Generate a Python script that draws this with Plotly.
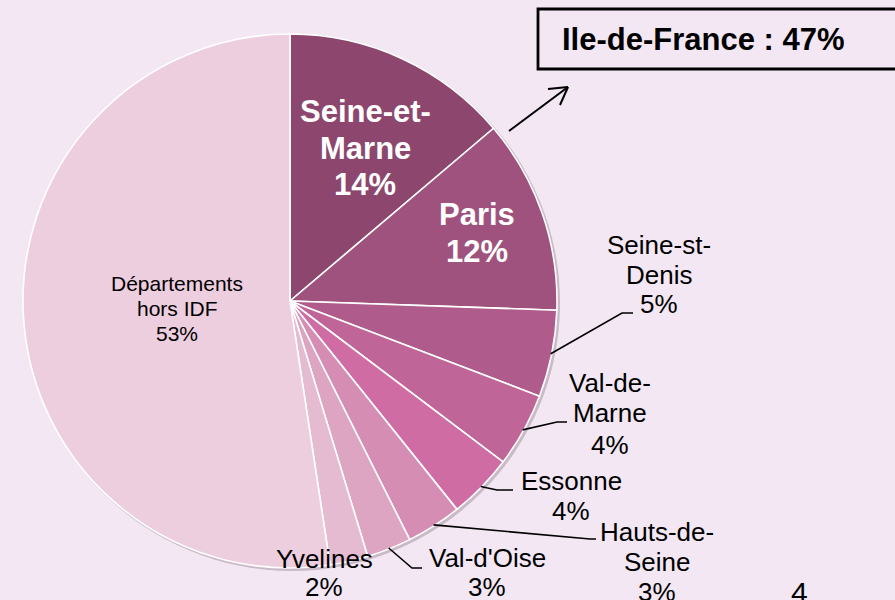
import math
import plotly.graph_objects as go

# ---------------- data ----------------
departements = ["Seine-et-Marne", "Paris", "Seine-st-Denis", "Val-de-Marne", "Essonne",
                "Hauts-de-Seine", "Val-d'Oise", "Yvelines", "Départements hors IDF"]
label_lines = [["Seine-et-", "Marne"], ["Paris"], ["Seine-st-", "Denis"], ["Val-de-", "Marne"],
               ["Essonne"], ["Hauts-de-", "Seine"], ["Val-d'Oise"], ["Yvelines"],
               ["Départements", "hors IDF"]]
parts = [13.8, 11.75, 5.25, 4.5, 3.95, 3.35, 2.7, 2.3, 52.4]
shown_pct = [14, 12, 5, 4, 4, 3, 3, 2, 53]
idf_total = 47
idf_title = "Ile-de-France"
page_number = "4"

colors = ["#8D476E", "#9F527D", "#AF5B8B", "#C06597", "#CF6CA4",
          "#D58DB4", "#DEA5C3", "#E4BBD1", "#EDCEDF"]
BG = "#F2E7F3"
FONT = "Liberation Sans, Arial, sans-serif"

# ---------------- geometry ----------------
W, H = 895, 600
CX, CY, R = 290, 301, 267


def px(x):
    return x / W


def py(y):
    return 1 - y / H


fig = go.Figure(go.Pie(
    labels=departements, values=parts, sort=False, direction="clockwise", rotation=0,
    marker=dict(colors=colors, line=dict(color="white", width=1.6)),
    textinfo="none", hoverinfo="label+percent", showlegend=False,
    domain=dict(x=[px(CX - R), px(CX + R)], y=[py(CY + R), py(CY - R)]),
))

# label placement (pixel positions of each text line centre)
place = [
    dict(x=365, ys=[111, 148, 184], size=31, bold=True, color="white"),
    dict(x=477, ys=[214, 251], size=31, bold=True, color="white"),
    dict(x=659, ys=[245, 275, 304], size=26, bold=False, color="black"),
    dict(x=610, ys=[383, 413, 445], size=26, bold=False, color="black"),
    dict(x=571, ys=[481, 511], size=26, bold=False, color="black"),
    dict(x=657, ys=[532, 562, 592], size=26, bold=False, color="black"),
    dict(x=487, ys=[558, 587], size=26, bold=False, color="black"),
    dict(x=324, ys=[559, 587], size=26, bold=False, color="black"),
    dict(x=177, ys=[283, 308, 333], size=21, bold=False, color="black"),
]

annotations = []
for i, pl in enumerate(place):
    lines = label_lines[i] + [f"{shown_pct[i]}%"]
    for txt, yy in zip(lines, pl["ys"]):
        t = f"<b>{txt}</b>" if pl["bold"] else txt
        annotations.append(dict(
            x=px(pl["x"]), y=py(yy), xref="paper", yref="paper", text=t, showarrow=False,
            xanchor="center", yanchor="middle",
            font=dict(family=FONT, size=pl["size"], color=pl["color"])))

# leader lines: start at the slice mid-angle on the rim (from data)
elbows = {2: [(622, 313), (633, 313)], 3: [(557, 422), (567, 422)],
          4: [(497, 490), (513, 490)], 5: [(590, 539), (596, 539)],
          6: [(412, 568), (422, 568)]}
total = sum(parts)
cum = 0
mids = []
for v in parts:
    mids.append((cum + v / 2) / total)
    cum += v

shapes = []
# subtle shadow under the pie
shapes.append(dict(type="circle", xref="paper", yref="paper", layer="below",
                   x0=px(CX - R + 1), x1=px(CX + R + 3), y0=py(CY + R + 3), y1=py(CY - R + 1),
                   fillcolor="rgba(110,80,100,0.30)", line=dict(width=0)))
for i, pts in elbows.items():
    th = mids[i] * 2 * math.pi
    ax, ay = CX + (R - 1) * math.sin(th), CY - (R - 1) * math.cos(th)
    path = f"M{px(ax)},{py(ay)}" + "".join(f" L{px(x)},{py(y)}" for x, y in pts)
    shapes.append(dict(type="path", xref="paper", yref="paper", path=path,
                       line=dict(color="black", width=1.6)))

# Ile-de-France box and arrow
shapes.append(dict(type="rect", xref="paper", yref="paper",
                   x0=px(538), x1=px(905), y0=py(69), y1=py(9),
                   line=dict(color="black", width=2.8)))
for (x0, y0, x1, y1) in [(509, 131, 568, 87), (568, 87, 548, 89), (568, 87, 560, 105)]:
    shapes.append(dict(type="line", xref="paper", yref="paper",
                       x0=px(x0), y0=py(y0), x1=px(x1), y1=py(y1),
                       line=dict(color="black", width=2)))

annotations.append(dict(x=px(560), y=py(40), xref="paper", yref="paper",
                        text=f"<b>{idf_title} : {idf_total}%</b>", showarrow=False,
                        xanchor="left", yanchor="middle",
                        font=dict(family=FONT, size=31, color="black")))
annotations.append(dict(x=px(799), y=py(592), xref="paper", yref="paper",
                        text=page_number, showarrow=False, xanchor="center", yanchor="middle",
                        font=dict(family=FONT, size=30, color="black")))

fig.update_layout(width=W, height=H, margin=dict(l=0, r=0, t=0, b=0),
                  paper_bgcolor=BG, plot_bgcolor=BG,
                  shapes=shapes, annotations=annotations)

fig.write_html("out.html")
